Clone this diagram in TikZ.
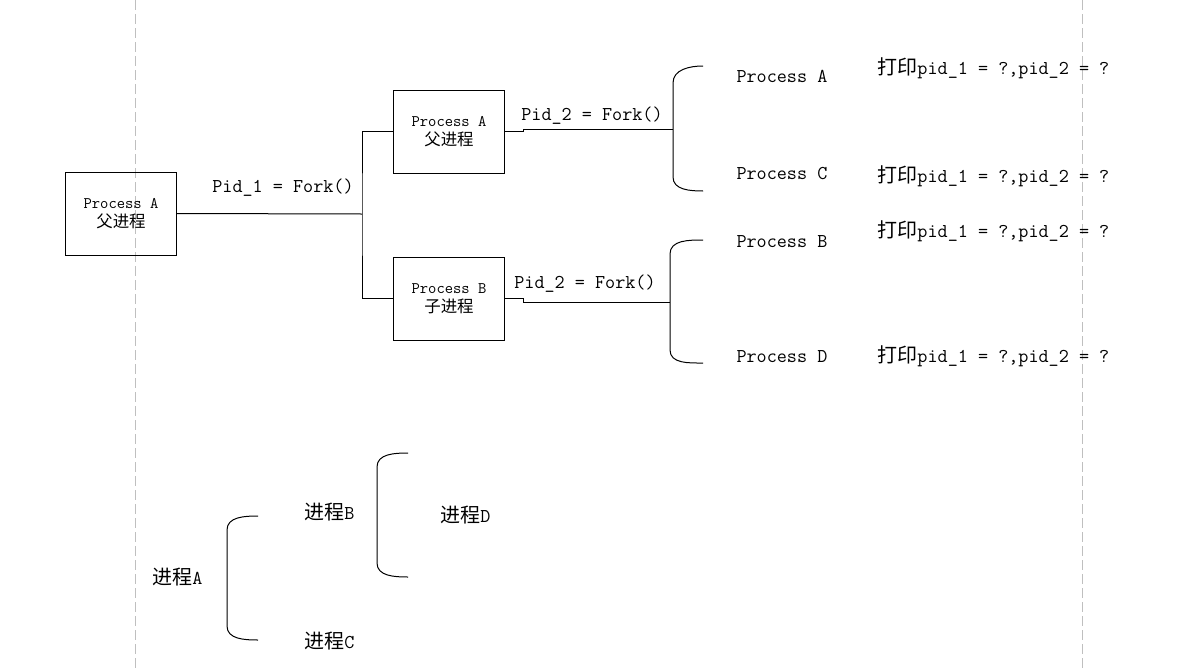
\documentclass[tikz,border=0pt]{standalone}
\usepackage{fontspec}
\newfontfamily\cjk[Scale=1.02]{Noto Sans CJK SC}
\usetikzlibrary{positioning}

\begin{document}
\begin{tikzpicture}[
    x=0.75pt, y=-0.75pt,
    line width=0.75pt,
    font=\ttfamily\fontsize{14.7}{17}\selectfont,
    blk/.style={draw, minimum width=83.25pt, minimum height=62.25pt, align=center,
      inner sep=0pt, font=\ttfamily\fontsize{12.1}{14.5}\selectfont},
    lbl/.style={inner sep=0pt, anchor=west},
    guide/.style={draw=black!25, line width=0.6pt, dash pattern=on 7.5pt off 3pt}
  ]
  \useasboundingbox (0,0) rectangle (1187,671);
  \draw[guide] (135,0) -- (135,671);
  \draw[guide] (1082,0) -- (1082,671);

  % fork tree
  \node[blk] (a0) at (121,213.5) {Process A\\{\cjk 父进程}};
  \node[blk] (a1) at (449,131.5) {Process A\\{\cjk 父进程}};
  \node[blk] (b1) at (449,298.5) {Process B\\{\cjk 子进程}};
  \coordinate (j1) at (362,214);
  \draw (a0.east) -- (j1);
  \draw (a1.west) -| (j1) |- (b1.west);
  \node[inner sep=0pt] (f1) at (283,188) {Pid\_1 = Fork()};

  \coordinate (ba) at (673,129);
  \coordinate (bb) at (670,302);
  \draw (a1.east) -- ++(18,0) |- (ba);
  \draw (b1.east) -- ++(18,0) |- (bb);
  \node[inner sep=0pt] (f2) at (592,116) {Pid\_2 = Fork()};
  \node[inner sep=0pt] (f3) at (585,284) {Pid\_2 = Fork()};

  % braces
  \coordinate (ta) at (703,66);
  \coordinate (tc) at (703,191);
  \draw (ta) to[out=180,in=90] (673,83) -- (673,177) to[out=-90,in=180] (tc);
  \coordinate (tb) at (703,240);
  \coordinate (td) at (703,363);
  \draw (tb) to[out=180,in=90] (670,254) -- (670,350) to[out=-90,in=180] (td);

  \node[lbl] (pa) at (736,76) {Process A};
  \node[lbl] (pc) at (736,174) {Process C};
  \node[lbl] (pb) at (736,242) {Process B};
  \node[lbl] (pd) at (736,357) {Process D};

  \node[lbl] (oa) at (877,68) {{\cjk 打印}pid\_1 = ?,pid\_2 = ?};
  \node[lbl] (oc) at (877,176) {{\cjk 打印}pid\_1 = ?,pid\_2 = ?};
  \node[lbl] (ob) at (877,231) {{\cjk 打印}pid\_1 = ?,pid\_2 = ?};
  \node[lbl] (od) at (877,356) {{\cjk 打印}pid\_1 = ?,pid\_2 = ?};

  % process tree
  \node[lbl] (ja) at (152,577) {{\cjk 进程}A};
  \node[lbl] (jb) at (304,512) {{\cjk 进程}B};
  \node[lbl] (jc) at (304,641) {{\cjk 进程}C};
  \node[lbl] (jd) at (440,515) {{\cjk 进程}D};
  \coordinate (sb) at (258,516);
  \coordinate (sc) at (258,640);
  \draw (sb) to[out=180,in=90] (227,530) -- (227,626) to[out=-90,in=180] (sc);
  \coordinate (sd1) at (408,453);
  \coordinate (sd2) at (408,577);
  \draw (sd1) to[out=180,in=90] (377,467) -- (377,563) to[out=-90,in=180] (sd2);
\end{tikzpicture}
\end{document}
